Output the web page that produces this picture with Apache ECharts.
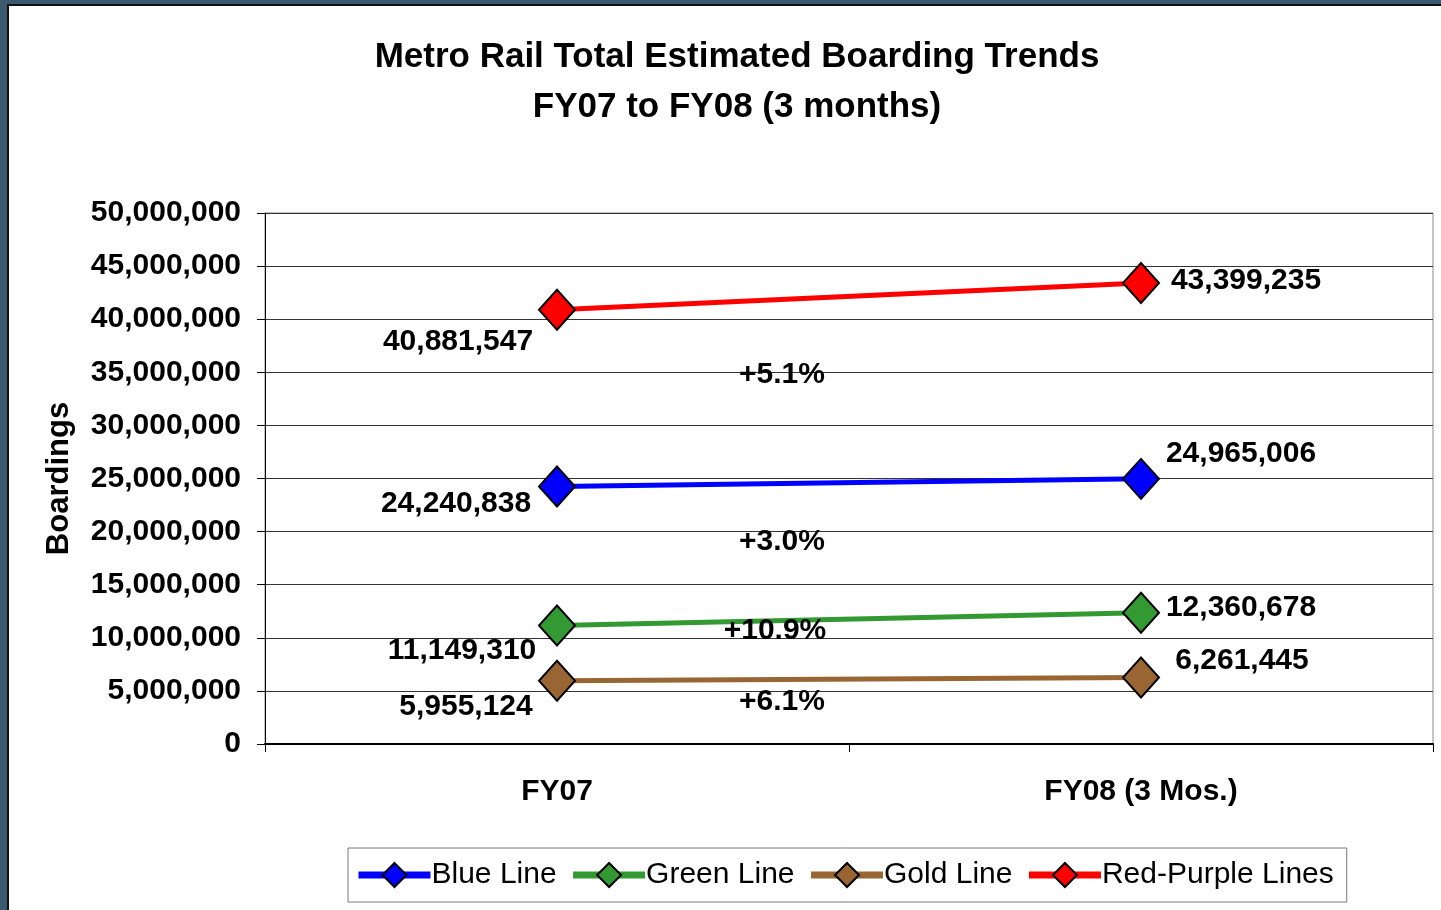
<!DOCTYPE html>
<html>
<head>
<meta charset="utf-8">
<script src="https://cdn.jsdelivr.net/npm/echarts@6/dist/echarts.min.js"></script>
<style>
html,body{margin:0;padding:0;width:1441px;height:910px;overflow:hidden;background:#3b5a6f;}
#frame{position:absolute;left:7px;top:4px;width:1440px;height:910px;background:#fff;border-left:2px solid #111;border-top:2px solid #111;}
#chart{position:absolute;left:0;top:0;width:1441px;height:910px;}
</style>
</head>
<body>
<div id="frame"></div>
<div id="chart"></div>
<script>
const categories = ['FY07', 'FY08 (3 Mos.)'];
const seriesNames = ['Blue Line', 'Green Line', 'Gold Line', 'Red-Purple Lines'];
const blueLine = [24240838, 24965006];
const greenLine = [11149310, 12360678];
const goldLine = [5955124, 6261445];
const redPurpleLines = [40881547, 43399235];
const pctChange = ['+3.0%', '+10.9%', '+6.1%', '+5.1%'];
const yTicks = [0, 50000000, 5000000];

const colors = ['#0000ff', '#339933', '#996633', '#ff0000'];
const values = [blueLine, greenLine, goldLine, redPurpleLines];
const labelOffsets = [
  [[-101, 17], [100, -25]],
  [[-95, 25], [100, -5]],
  [[-91, 26], [101, -17]],
  [[-99, 32], [105, -2]]
];
const pctPos = [[782, 542], [775, 631], [782, 702], [782, 375]];

const fmt = v => v.toString().replace(/\B(?=(\d{3})+(?!\d))/g, ',');
const FONT = '"Liberation Sans", Arial, sans-serif';

const chart = echarts.init(document.getElementById('chart'));
chart.setOption({
  backgroundColor: 'transparent',
  animation: false,
  textStyle: { fontFamily: FONT },
  title: {
    text: 'Metro Rail Total Estimated Boarding Trends\nFY07 to FY08 (3 months)',
    left: 732, top: 27, textAlign: 'center',
    textStyle: { fontFamily: FONT, fontWeight: 'bold', fontSize: 35, color: '#000', lineHeight: 50 }
  },
  grid: { left: 265, right: 8, top: 213, bottom: 166, show: true, borderColor: '#888', borderWidth: 1, containLabel: false },
  legend: {
    left: 348, top: 848,
    data: seriesNames,
    itemWidth: 72, itemHeight: 30, itemGap: 13,
    padding: [12, 13, 12, 7],
    borderColor: '#777', borderWidth: 1,
    lineStyle: { width: 7 },
    textStyle: { fontFamily: FONT, fontSize: 30, color: '#000', padding: [0, 0, 0, -4] }
  },
  xAxis: {
    type: 'category', data: categories, boundaryGap: true,
    axisLine: { lineStyle: { color: '#000', width: 2 } },
    axisTick: { show: true, length: 8, lineStyle: { color: '#000' } },
    axisLabel: { margin: 33, fontFamily: FONT, fontWeight: 'bold', fontSize: 30, color: '#000' }
  },
  yAxis: {
    type: 'value', min: yTicks[0], max: yTicks[1], interval: yTicks[2],
    name: 'Boardings', nameLocation: 'middle', nameGap: 190, nameRotate: 90,
    nameTextStyle: { fontFamily: FONT, fontWeight: 'bold', fontSize: 31, color: '#000' },
    axisLine: { show: true, lineStyle: { color: '#000', width: 1 } },
    axisTick: { show: true, length: 8, lineStyle: { color: '#000' } },
    axisLabel: { margin: 24, fontFamily: FONT, fontWeight: 'bold', fontSize: 30, color: '#000', formatter: v => fmt(v) },
    splitLine: { lineStyle: { color: '#333', width: 1 } }
  },
  series: seriesNames.map((name, i) => ({
    name, type: 'line',
    data: values[i].map((v, j) => ({
      value: v,
      label: { show: true, position: 'inside', offset: labelOffsets[i][j], formatter: p => fmt(p.value),
               fontFamily: FONT, fontWeight: 'bold', fontSize: 30, color: '#000' }
    })),
    symbol: 'diamond', symbolSize: [36, 40],
    lineStyle: { color: colors[i], width: 5 },
    itemStyle: { color: colors[i], borderColor: '#000', borderWidth: 2 },
    z: 3
  })),
  graphic: pctChange.map((t, i) => ({
    type: 'text', x: pctPos[i][0], y: pctPos[i][1], z: 10,
    style: { text: t, fontFamily: FONT, fontWeight: 'bold', fontSize: 30, fill: '#000', align: 'center', verticalAlign: 'middle' }
  }))
});
</script>
</body>
</html>
